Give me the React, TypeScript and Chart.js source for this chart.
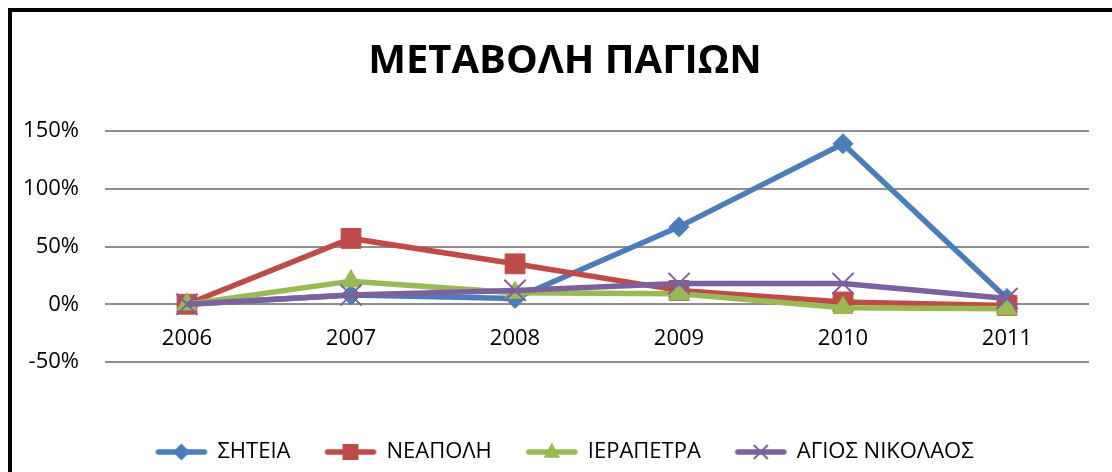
import { useEffect, useRef } from "react";
import { Chart, registerables } from "chart.js";

Chart.register(...registerables);

const chartTitle = "ΜΕΤΑΒΟΛΗ ΠΑΓΙΩΝ";
const years = ["2006", "2007", "2008", "2009", "2010", "2011"];
const seriesNames = ["ΣΗΤΕΙΑ", "ΝΕΑΠΟΛΗ", "ΙΕΡΑΠΕΤΡΑ", "ΑΓΙΟΣ ΝΙΚΟΛΑΟΣ"];
const siteia = [0, 8, 5, 67, 139, 5];
const neapoli = [0, 57, 35, 12, 2, -1];
const ierapetra = [0, 20, 10, 9, -3, -4];
const agiosNikolaos = [0, 8, 12, 18, 18, 5];
const yMin = -50;
const yMax = 150;
const yStep = 50;

const colors = ["#4A7EBB", "#BE4B48", "#98B954", "#7D60A0"];
const shapes = ["rectRot", "rect", "triangle", "crossRot"];
const radii = [10, 14, 11.5, 15];
const FONT = "'Open Sans', 'Noto Sans', 'DejaVu Sans', sans-serif";

function makeIcon(color: string, shape: string): HTMLCanvasElement {
  const c = document.createElement("canvas");
  c.width = 54;
  c.height = 22;
  const ctx = c.getContext("2d")!;
  const cx = 27;
  const cy = 11;
  ctx.strokeStyle = color;
  ctx.fillStyle = color;
  ctx.lineWidth = 5.5;
  ctx.lineCap = "round";
  ctx.beginPath();
  ctx.moveTo(4, cy);
  ctx.lineTo(50, cy);
  ctx.stroke();
  ctx.beginPath();
  if (shape === "rectRot") {
    const r = 8.5;
    ctx.moveTo(cx, cy - r);
    ctx.lineTo(cx + r, cy);
    ctx.lineTo(cx, cy + r);
    ctx.lineTo(cx - r, cy);
    ctx.closePath();
    ctx.fill();
  } else if (shape === "rect") {
    const s = 8;
    ctx.rect(cx - s, cy - s, 2 * s, 2 * s);
    ctx.fill();
  } else if (shape === "triangle") {
    const r = 9.5;
    ctx.moveTo(cx, cy - r);
    ctx.lineTo(cx + r * 0.866, cy + r * 0.6);
    ctx.lineTo(cx - r * 0.866, cy + r * 0.6);
    ctx.closePath();
    ctx.fill();
  } else {
    const d = 7;
    ctx.lineWidth = 2;
    ctx.lineCap = "butt";
    ctx.moveTo(cx - d, cy - d);
    ctx.lineTo(cx + d, cy + d);
    ctx.moveTo(cx + d, cy - d);
    ctx.lineTo(cx - d, cy + d);
    ctx.stroke();
  }
  return c;
}

export default function App() {
  const ref = useRef<HTMLCanvasElement | null>(null);

  useEffect(() => {
    if (!ref.current) return;
    const seriesData = [siteia, neapoli, ierapetra, agiosNikolaos];
    const icons = colors.map((c, i) => makeIcon(c, shapes[i]));
    const datasets = seriesNames.map((name, i) => ({
      label: name,
      data: seriesData[i],
      borderColor: colors[i],
      backgroundColor: colors[i],
      borderWidth: 5.5,
      pointStyle: shapes[i] as any,
      pointRadius: radii[i],
      pointHoverRadius: radii[i],
      pointBackgroundColor: colors[i],
      pointBorderColor: colors[i],
      pointBorderWidth: shapes[i] === "crossRot" ? 2 : 1,
      tension: 0,
      order: 3 - i,
    }));

    const chart = new Chart(ref.current, {
      type: "line",
      data: { labels: years, datasets },
      options: {
        animation: false,
        responsive: true,
        maintainAspectRatio: false,
        layout: { padding: { left: 0, right: 0, top: 0, bottom: 8 } },
        font: { family: FONT },
        plugins: {
          tooltip: { enabled: false },
          title: {
            display: true,
            text: chartTitle,
            color: "#000",
            font: { family: FONT, size: 40, weight: "bold", lineHeight: 1.2 },
            padding: { top: 26, bottom: 45 },
          },
          subtitle: {
            display: true,
            position: "bottom",
            text: "",
            weight: 500,
            font: { size: 1, lineHeight: 1 },
            padding: { top: 43, bottom: 0 },
          } as any,
          legend: {
            display: true,
            position: "bottom",
            labels: {
              color: "#000",
              font: { family: FONT, size: 22 },
              usePointStyle: true,
              pointStyleWidth: 50,
              padding: 35,
              generateLabels: (ch: any) =>
                ch.data.datasets.map((ds: any, i: number) => ({
                  text: ds.label,
                  pointStyle: icons[i],
                  fillStyle: "transparent",
                  strokeStyle: "transparent",
                  lineWidth: 0,
                  hidden: false,
                  datasetIndex: i,
                  fontColor: "#000",
                })),
            },
          },
        },
        scales: {
          x: {
            type: "category",
            position: { y: 0 } as any,
            offset: true,
            grid: { display: false, drawTicks: false },
            border: { display: false },
            ticks: {
              color: "#000",
              font: { family: FONT, size: 22 },
              padding: 21,
              maxRotation: 0,
            },
          },
          y: {
            min: yMin,
            max: yMax,
            afterFit: (s: any) => {
              s.width = 93;
            },
            grid: { color: "#8E8E8E", lineWidth: 2, drawTicks: false },
            border: { display: false },
            ticks: {
              stepSize: yStep,
              color: "#000",
              font: { family: FONT, size: 22 },
              padding: 26,
              callback: (v: any) => `${v}%`,
            },
          },
          spacer: {
            type: "linear",
            position: "right",
            display: true,
            afterFit: (s: any) => {
              s.width = 29;
            },
            grid: { display: false, drawTicks: false },
            border: { display: false },
            ticks: { display: false },
          },
        },
      },
    });
    return () => chart.destroy();
  }, []);

  return (
    <div style={{ position: "fixed", inset: 0, overflow: "hidden", background: "#fff" }}>
      <div
        style={{
          position: "absolute",
          left: 8,
          top: 8,
          width: 1106,
          height: 469,
          border: "4px solid #000",
          background: "#fff",
        }}
      >
        <canvas ref={ref} />
      </div>
    </div>
  );
}
